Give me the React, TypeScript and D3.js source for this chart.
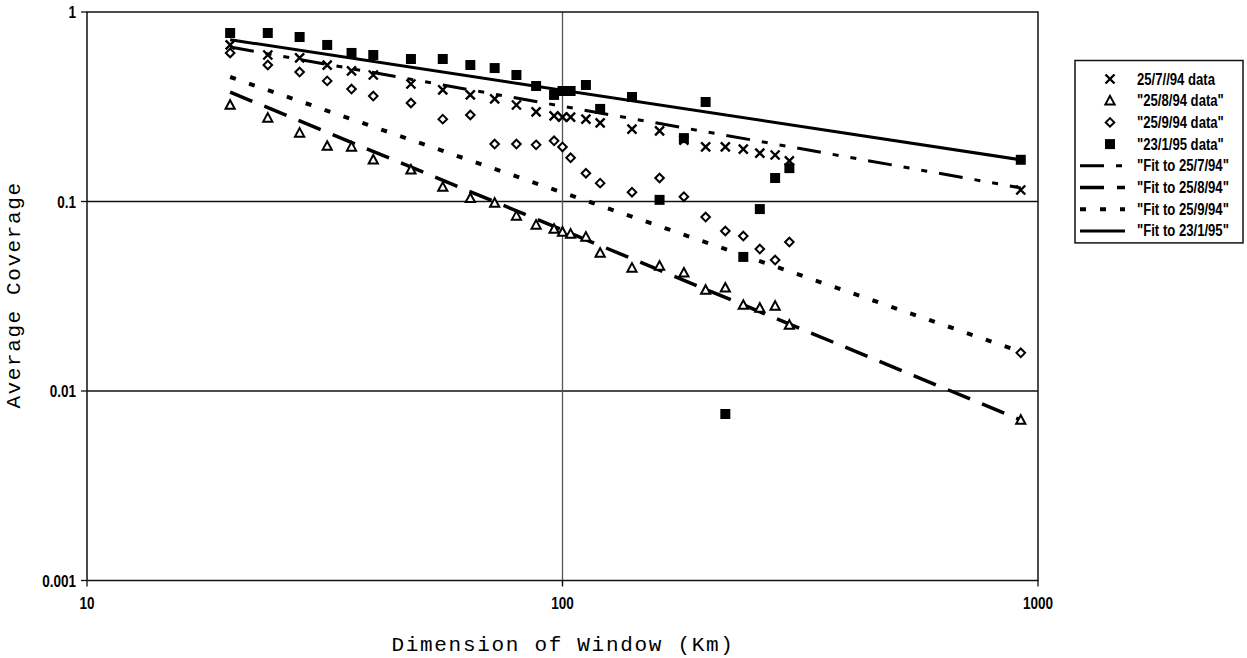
import React, { useEffect, useRef } from "react";
import * as d3 from "d3";

const width = 1247;
const height = 658;

// window sizes (km) shared by all four data sets
const windowKm = [20, 24, 28, 32, 36, 40, 48, 56, 64, 72, 80, 88, 96, 100, 104, 112, 120, 140, 160, 180, 200, 220, 240, 260, 280, 300, 920];

const cov250794 = [0.670, 0.593, 0.572, 0.525, 0.489, 0.465, 0.417, 0.388, 0.365, 0.348, 0.323, 0.297, 0.283, 0.279, 0.279, 0.272, 0.260, 0.241, 0.236, 0.211, 0.194, 0.194, 0.189, 0.180, 0.176, 0.164, 0.115];
const cov250894 = [0.323, 0.276, 0.230, 0.196, 0.194, 0.166, 0.147, 0.119, 0.104, 0.0982, 0.0839, 0.0752, 0.0716, 0.0690, 0.0674, 0.0650, 0.0535, 0.0446, 0.0457, 0.0420, 0.0341, 0.0350, 0.0284, 0.0274, 0.0281, 0.0223, 0.00703];
const cov250994 = [0.608, 0.525, 0.482, 0.433, 0.392, 0.360, 0.331, 0.272, 0.286, 0.201, 0.201, 0.199, 0.209, 0.194, 0.170, 0.141, 0.125, 0.112, 0.133, 0.106, 0.0828, 0.0699, 0.0657, 0.0561, 0.0491, 0.0611, 0.0159];
const cov230195 = [0.775, 0.775, 0.738, 0.670, 0.608, 0.593, 0.565, 0.565, 0.525, 0.506, 0.465, 0.407, 0.365, 0.383, 0.383, 0.412, 0.308, 0.356, 0.102, 0.216, 0.335, 0.00756, 0.051, 0.0912, 0.133, 0.150, 0.166];

// power law fits, end points
const fitKm = [20, 920];
const fit250794 = [0.653, 0.118];
const fit250894 = [0.378, 0.00703];
const fit250994 = [0.454, 0.0161];
const fit230195 = [0.714, 0.166];

const yTicks = [1, 0.1, 0.01, 0.001];
const yTickLabels = ["1", "0.1", "0.01", "0.001"];
const xTicks = [10, 100, 1000];
const xTickLabels = ["10", "100", "1000"];

const dataLabels = ["25/7//94 data", "\"25/8/94 data\"", "\"25/9/94 data\"", "\"23/1/95 data\""];
const fitLabels = ["\"Fit to 25/7/94\"", "\"Fit to 25/8/94\"", "\"Fit to 25/9/94\"", "\"Fit to 23/1/95\""];

const labelFont = "'Liberation Sans', Arial, sans-serif";
const titleFont = "'Liberation Mono', 'Courier New', monospace";

const markX = (s) => `M${-s},${-s}L${s},${s}M${-s},${s}L${s},${-s}`;
const markTri = (s) => `M0,${-s * 1.05}L${s},${s * 0.8}L${-s},${s * 0.8}Z`;
const markDiamond = (s) => `M0,${-s}L${s},0L0,${s}L${-s},0Z`;
const markSquare = (s) => `M${-s},${-s}h${2 * s}v${2 * s}h${-2 * s}Z`;

// condensed label text (no narrow font available, so squeeze horizontally)
function label(g, x, y, txt, anchor, size) {
  return g.append("text")
    .attr("transform", `translate(${x},${y}) scale(0.82,1)`)
    .attr("text-anchor", anchor)
    .attr("font-family", labelFont)
    .attr("font-size", size)
    .attr("font-weight", "bold")
    .text(txt);
}

function App() {
  const svgRef = useRef(null);

  useEffect(() => {
    const svg = d3.select(svgRef.current);
    svg.selectAll("*").remove();

    const x = d3.scaleLog().domain([10, 1000]).range([87, 1038]);
    const y = d3.scaleLog().domain([0.001, 1]).range([580.5, 12]);

    const series = [
      { vals: cov250794, path: markX(4.5), fill: "none", sw: 2.4 },
      { vals: cov250894, path: markTri(4.6), fill: "#fff", sw: 2 },
      { vals: cov250994, path: markDiamond(4.3), fill: "#fff", sw: 2 },
      { vals: cov230195, path: markSquare(5), fill: "#000", sw: 0 },
    ];
    const fits = [
      { vals: fit250794, dash: "24 12 6 12 6 12", sw: 3 },
      { vals: fit250894, dash: "24 13", sw: 3.5 },
      { vals: fit250994, dash: "6 14", sw: 4 },
      { vals: fit230195, dash: null, sw: 3 },
    ];

    // grid
    const g = svg.append("g");
    [0.1, 0.01].forEach((v) => {
      g.append("line")
        .attr("x1", x(10)).attr("x2", x(1000))
        .attr("y1", y(v)).attr("y2", y(v))
        .attr("stroke", "#111").attr("stroke-width", 1.3);
    });
    g.append("line")
      .attr("x1", x(100)).attr("x2", x(100))
      .attr("y1", y(1)).attr("y2", y(0.001) + 5)
      .attr("stroke", "#555").attr("stroke-width", 1.3);

    // frame
    g.append("rect")
      .attr("x", x(10)).attr("y", y(1))
      .attr("width", x(1000) - x(10)).attr("height", y(0.001) - y(1))
      .attr("fill", "none").attr("stroke", "#111").attr("stroke-width", 1.5);

    // ticks + labels
    yTicks.forEach((v, i) => {
      g.append("line")
        .attr("x1", x(10) - 6).attr("x2", x(10))
        .attr("y1", y(v)).attr("y2", y(v))
        .attr("stroke", "#111").attr("stroke-width", 1.3);
      label(g, x(10) - 11, y(v) + 6, yTickLabels[i], "end", 16.5);
    });
    xTicks.forEach((v, i) => {
      g.append("line")
        .attr("x1", x(v)).attr("x2", x(v))
        .attr("y1", y(0.001)).attr("y2", y(0.001) + 6)
        .attr("stroke", "#111").attr("stroke-width", 1.3);
      label(g, x(v), 609, xTickLabels[i], "middle", 16.5);
    });

    // axis titles
    g.append("text")
      .attr("x", 563).attr("y", 651)
      .attr("text-anchor", "middle")
      .attr("font-family", titleFont).attr("font-size", 21)
      .attr("letter-spacing", 1.7)
      .text("Dimension of Window (Km)");
    g.append("text")
      .attr("transform", "translate(20,295) rotate(-90)")
      .attr("text-anchor", "middle")
      .attr("font-family", titleFont).attr("font-size", 21)
      .attr("letter-spacing", 1.6)
      .text("Average Coverage");

    // fit lines
    const line = d3.line()
      .x((d) => x(d[0]))
      .y((d) => y(d[1]));
    fits.forEach((f) => {
      g.append("path")
        .datum(fitKm.map((k, i) => [k, f.vals[i]]))
        .attr("d", line)
        .attr("fill", "none")
        .attr("stroke", "#000")
        .attr("stroke-width", f.sw)
        .attr("stroke-dasharray", f.dash)
        .attr("stroke-linecap", "butt");
    });

    // data markers
    series.forEach((s) => {
      g.append("g")
        .selectAll("path")
        .data(windowKm.map((k, i) => [k, s.vals[i]]))
        .enter()
        .append("path")
        .attr("transform", (d) => `translate(${x(d[0])},${y(d[1])})`)
        .attr("d", s.path)
        .attr("fill", s.fill)
        .attr("stroke", s.sw ? "#000" : "none")
        .attr("stroke-width", s.sw);
    });

    // legend
    const lg = svg.append("g");
    const rowY = (i) => 79 + i * 21.7;
    lg.append("rect")
      .attr("x", 1075).attr("y", 60.5)
      .attr("width", 168).attr("height", rowY(7) - 60.5 + 12)
      .attr("fill", "#fff").attr("stroke", "#111").attr("stroke-width", 1.5);
    series.forEach((s, i) => {
      lg.append("path")
        .attr("transform", `translate(1110,${rowY(i)})`)
        .attr("d", s.path)
        .attr("fill", s.fill)
        .attr("stroke", s.sw ? "#000" : "none")
        .attr("stroke-width", s.sw);
      label(lg, 1137, rowY(i) + 5.5, dataLabels[i], "start", 16);
    });
    fits.forEach((f, i) => {
      const r = rowY(i + 4);
      lg.append("line")
        .attr("x1", 1080).attr("x2", 1125)
        .attr("y1", r).attr("y2", r)
        .attr("stroke", "#000")
        .attr("stroke-width", f.sw)
        .attr("stroke-dasharray", f.dash);
      label(lg, 1137, r + 5.5, fitLabels[i], "start", 16);
    });
  }, []);

  return (
    <svg
      ref={svgRef}
      width={width}
      height={height}
      style={{ position: "absolute", left: 0, top: 0, background: "#fff" }}
    />
  );
}

export default App;
